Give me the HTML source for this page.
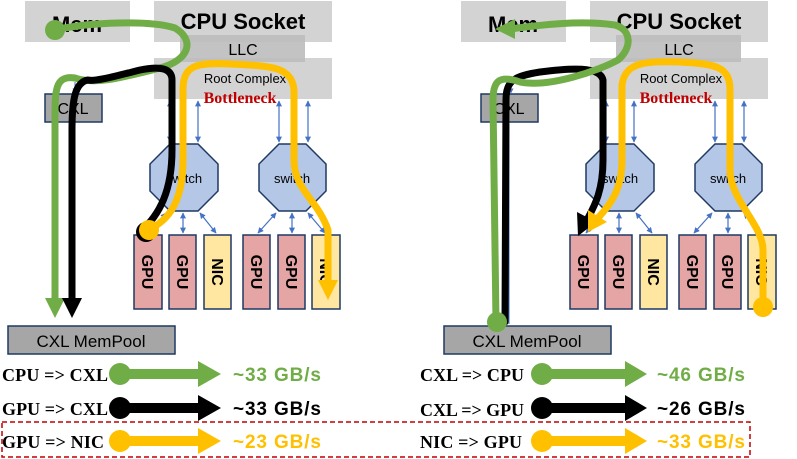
<!DOCTYPE html>
<html><head><meta charset="utf-8"><style>
html,body{margin:0;padding:0;background:#fff;}
svg{display:block;}
.sans{font-family:"Liberation Sans",sans-serif;}
.serif{font-family:"Liberation Serif",serif;font-weight:bold;}
</style></head><body>
<svg width="797" height="459" viewBox="0 0 797 459" xmlns="http://www.w3.org/2000/svg">
<defs>
<marker id="ba" viewBox="0 0 10 10" refX="9" refY="5" markerWidth="5" markerHeight="5" orient="auto-start-reverse"><path d="M0,0L10,5L0,10z" fill="#4472c4"/></marker>
<g id="base">
  <rect x="25" y="1" width="105" height="41" fill="#d3d3d3"/>
  <text x="77" y="32" font-size="22" text-anchor="middle" class="sans" font-weight="bold">Mem</text>
  <rect x="154" y="1" width="178" height="41" fill="#d3d3d3"/>
  <text x="243" y="29" font-size="22" text-anchor="middle" class="sans" font-weight="bold">CPU Socket</text>
  <rect x="154" y="58" width="178" height="41" fill="#d3d3d3"/>
  <rect x="180" y="35" width="125" height="27" fill="#bdbdbd" opacity="0.9"/>
  <text x="243" y="55" font-size="16" text-anchor="middle" class="sans">LLC</text>
  <text x="245" y="83" font-size="13" text-anchor="middle" class="sans">Root Complex</text>
  <text x="240" y="103" font-size="16" text-anchor="middle" class="serif" fill="#c00000">Bottleneck</text>
  <rect x="45" y="94" width="57" height="28" fill="#a6a6a6" stroke="#1f3864" stroke-width="1.5"/>
  <text x="73" y="114" font-size="16" text-anchor="middle" class="sans">CXL</text>
  <line x1="75" y1="82" x2="75" y2="93" stroke="#4472c4" stroke-width="1" marker-end="url(#ba)"/>
  <g stroke="#4472c4" stroke-width="1.2">
    <line x1="170" y1="101" x2="170" y2="142" marker-start="url(#ba)" marker-end="url(#ba)"/>
    <line x1="198" y1="101" x2="198" y2="142" marker-start="url(#ba)" marker-end="url(#ba)"/>
    <line x1="279" y1="101" x2="279" y2="142" marker-start="url(#ba)" marker-end="url(#ba)"/>
    <line x1="308" y1="101" x2="308" y2="142" marker-start="url(#ba)" marker-end="url(#ba)"/>
    <line x1="166" y1="213" x2="150" y2="233" marker-start="url(#ba)" marker-end="url(#ba)"/>
    <line x1="183" y1="213" x2="183" y2="233" marker-start="url(#ba)" marker-end="url(#ba)"/>
    <line x1="200" y1="213" x2="216" y2="233" marker-start="url(#ba)" marker-end="url(#ba)"/>
    <line x1="276" y1="213" x2="258" y2="233" marker-start="url(#ba)" marker-end="url(#ba)"/>
    <line x1="292" y1="213" x2="292" y2="233" marker-start="url(#ba)" marker-end="url(#ba)"/>
    <line x1="308" y1="213" x2="325" y2="233" marker-start="url(#ba)" marker-end="url(#ba)"/>
  </g>
  <polygon points="170,144 198,144 218,164 218,191 198,211 170,211 150,191 150,164" fill="#b4c7e7" stroke="#1f3864" stroke-width="1.5"/>
  <text x="184" y="183" font-size="13" text-anchor="middle" class="sans">switch</text>
  <polygon points="279,144 306,144 326,164 326,191 306,211 279,211 259,191 259,164" fill="#b4c7e7" stroke="#1f3864" stroke-width="1.5"/>
  <text x="292" y="183" font-size="13" text-anchor="middle" class="sans">switch</text>
  <g stroke="#1f3864" stroke-width="1.5">
    <rect x="134" y="235" width="28" height="74" fill="#e6a5a5"/>
    <rect x="169" y="235" width="27" height="74" fill="#e6a5a5"/>
    <rect x="204" y="235" width="27" height="74" fill="#ffe6a1"/>
    <rect x="243" y="235" width="27" height="74" fill="#e6a5a5"/>
    <rect x="278" y="235" width="27" height="74" fill="#e6a5a5"/>
    <rect x="312" y="235" width="28" height="74" fill="#ffe6a1"/>
  </g>
  <g font-size="16" font-weight="bold" class="sans">
    <text transform="translate(142,272) rotate(90)" text-anchor="middle">GPU</text>
    <text transform="translate(177,272) rotate(90)" text-anchor="middle">GPU</text>
    <text transform="translate(212,272) rotate(90)" text-anchor="middle">NIC</text>
    <text transform="translate(251,272) rotate(90)" text-anchor="middle">GPU</text>
    <text transform="translate(286,272) rotate(90)" text-anchor="middle">GPU</text>
    <text transform="translate(320,272) rotate(90)" text-anchor="middle">NIC</text>
  </g>
  <rect x="8" y="326" width="167" height="28" fill="#a6a6a6" stroke="#1f3864" stroke-width="1.5"/>
  <text x="91" y="347" font-size="17" text-anchor="middle" class="sans">CXL MemPool</text>
</g>
</defs>

<use href="#base"/>
<use href="#base" transform="translate(436,0)"/>
<line x1="509" y1="124" x2="509" y2="324" stroke="#4472c4" stroke-width="1"/>

<g fill="none" stroke-linecap="round" stroke-linejoin="round">
  <path d="M55,30 C90,22 150,20 175,28 C195,40 190,60 160,68 C120,78 95,85 75,78 C55,75 55,90 55,120 L55,302" stroke="#70ad47" stroke-width="7"/>
  <polygon points="45,298 65,298 55,318" fill="#70ad47"/>
  <path d="M140,232 C160,215 172,190 172,150 L172,80 C172,68 160,66 140,70 C120,75 95,82 88,80 C75,82 72,100 72,130 L72,302" stroke="#000" stroke-width="7"/>
  <polygon points="62,298 82,298 72,318" fill="#000"/>
  <path d="M148,230 C170,220 183,200 183,160 L183,90 C183,66 195,62 230,64 C270,66 292,66 294,90 L294,160 C294,190 318,200 328,230 L328,282" stroke="#ffc000" stroke-width="7"/>
  <polygon points="318,280 338,280 328,300" fill="#ffc000"/>
</g>
<circle cx="55" cy="30" r="10" fill="#70ad47"/>
<circle cx="146" cy="232" r="10" fill="#000"/>
<circle cx="149" cy="230" r="10" fill="#ffc000"/>

<g fill="none" stroke-linecap="round" stroke-linejoin="round">
  <path d="M505,322 L506,100 C506,80 515,76 540,72 C570,68 600,66 603,80 L603,160 C603,190 595,205 588,218" stroke="#000" stroke-width="7"/>
  <polygon points="577,212 596,222 578,236" fill="#000"/>
  <path d="M496,322 L493,100 C493,80 500,75 520,82 C550,88 600,70 618,60 C632,48 632,30 615,25 C580,20 540,25 510,29" stroke="#70ad47" stroke-width="7"/>
  <polygon points="515,19 515,39 495,29" fill="#70ad47"/>
  <path d="M763,306 L763,250 C763,225 730,200 730,170 L730,90 C730,66 715,64 680,62 C645,61 625,62 622,85 L622,160 C622,190 610,205 598,218" stroke="#ffc000" stroke-width="7"/>
  <polygon points="588,210 607,222 588,232" fill="#ffc000"/>
</g>
<circle cx="497" cy="322" r="10" fill="#70ad47"/>
<circle cx="763" cy="307" r="10" fill="#ffc000"/>

<g class="serif" font-size="18">
  <text x="2" y="381" textLength="106">CPU =&gt; CXL</text>
  <text x="2" y="415" textLength="106">GPU =&gt; CXL</text>
  <text x="2" y="448" textLength="102">GPU =&gt; NIC</text>
  <text x="420" y="381" textLength="104">CXL =&gt; CPU</text>
  <text x="420" y="416" textLength="104">CXL =&gt; GPU</text>
  <text x="420" y="448" textLength="102">NIC =&gt; GPU</text>
</g>
<g>
  <circle cx="120" cy="374" r="11" fill="#70ad47"/><rect x="120" y="369" width="80" height="10" fill="#70ad47"/><polygon points="198,361 198,387 221,374" fill="#70ad47"/>
  <circle cx="120" cy="408" r="11" fill="#000"/><rect x="120" y="403" width="80" height="10" fill="#000"/><polygon points="198,395 198,421 221,408" fill="#000"/>
  <circle cx="120" cy="441" r="11" fill="#ffc000"/><rect x="120" y="436" width="80" height="10" fill="#ffc000"/><polygon points="198,428 198,454 221,441" fill="#ffc000"/>
  <circle cx="542" cy="374" r="11" fill="#70ad47"/><rect x="542" y="369" width="85" height="10" fill="#70ad47"/><polygon points="625,361 625,387 647,374" fill="#70ad47"/>
  <circle cx="542" cy="408" r="11" fill="#000"/><rect x="542" y="403" width="85" height="10" fill="#000"/><polygon points="625,395 625,421 647,408" fill="#000"/>
  <circle cx="542" cy="441" r="11" fill="#ffc000"/><rect x="542" y="436" width="85" height="10" fill="#ffc000"/><polygon points="625,428 625,454 647,441" fill="#ffc000"/>
</g>
<g class="sans" font-weight="bold" font-size="19">
  <text x="233" y="381" fill="#70ad47" textLength="88">~33 GB/s</text>
  <text x="233" y="415" fill="#000" textLength="88">~33 GB/s</text>
  <text x="233" y="448" fill="#ffc000" textLength="88">~23 GB/s</text>
  <text x="657" y="381" fill="#70ad47" textLength="88">~46 GB/s</text>
  <text x="657" y="415" fill="#000" textLength="88">~26 GB/s</text>
  <text x="657" y="448" fill="#ffc000" textLength="88">~33 GB/s</text>
</g>
<rect x="2" y="422" width="748" height="35" fill="none" stroke="#c00000" stroke-width="1.5" stroke-dasharray="5,3"/>
</svg>
</body></html>
